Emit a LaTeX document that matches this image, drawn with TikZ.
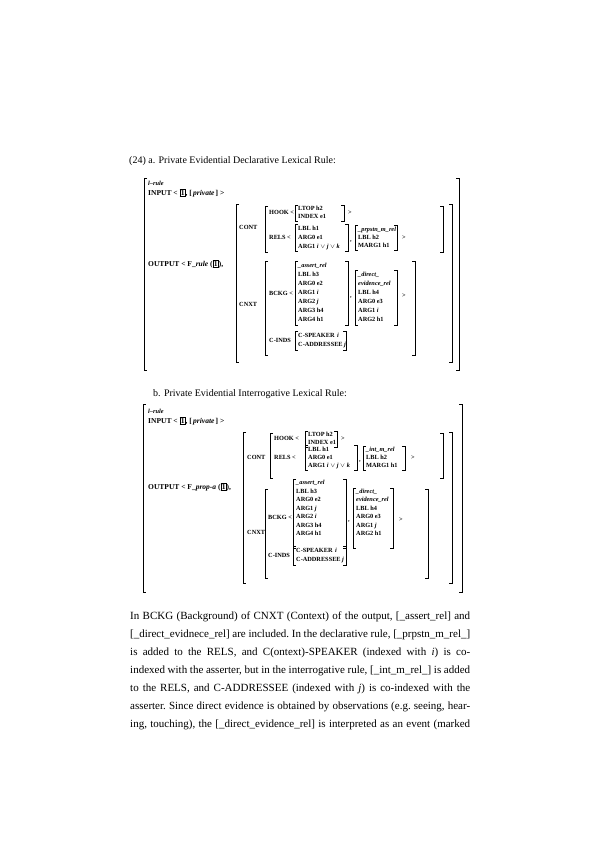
\documentclass[tikz,border=0pt]{standalone}
\usepackage{fontspec}
\setmainfont{Liberation Serif}
\tikzset{
 brk/.style={line width=0.8pt},
 avm/.style={font=\fontsize{6.3}{7}\selectfont\bfseries, inner sep=0pt, anchor=west, text height=4.5pt, text depth=1.3pt},
 avmtop/.style={avm, font=\fontsize{7.5}{8}\selectfont\bfseries},
 ttl/.style={font=\fontsize{10}{12}\selectfont, inner sep=0pt, anchor=base west},
 para/.style={font=\fontsize{11}{12}\selectfont\frenchspacing, inner sep=0pt, anchor=base west},
}
\newcounter{nn}
\newcommand\avt[2]{\stepcounter{nn}\node[avm] (t\arabic{nn}) at (#1) {#2};}
\newcommand\avtop[2]{\stepcounter{nn}\node[avmtop] (t\arabic{nn}) at (#1) {#2};}
\newcommand\lbr[3]{\draw[brk] (#1+3,#2) -- (#1,#2) -- (#1,#3) -- (#1+3,#3);}
\newcommand\rbr[3]{\draw[brk] (#1-3,#2) -- (#1,#2) -- (#1,#3) -- (#1-3,#3);}
\newcommand\bkt[4]{\lbr{#1}{#3}{#4}\rbr{#2}{#3}{#4}}
\newcommand\bxn[1]{{\setlength\fboxsep{0.7pt}\setlength\fboxrule{0.5pt}\fbox{#1}}}
\newcommand\pline[2]{\stepcounter{nn}\node[para] (p\arabic{nn}) at (130,#1) {\makebox[340pt][s]{#2}};}
\begin{document}
\begin{tikzpicture}[x=1pt,y=-1pt]
\fill[white] (0,0) rectangle (595,842);
\useasboundingbox (0,0) rectangle (595,842);
% titles
\node[ttl] (ta) at (129,164) {(24) a. Private Evidential Declarative Lexical Rule:};
\node[ttl] (tb) at (153,396) {b. Private Evidential Interrogative Lexical Rule:};
% ================= AVM a
\bkt{144}{459}{178}{370}
\avt{148,184}{\textit{l–rule}}
\avtop{148,194}{INPUT < \bxn{1}, [\,\textit{private}\,] >}
\avtop{148,265}{OUTPUT < F\_\textit{rule} (\bxn{1}),}
\bkt{236}{452}{204}{362}
\avt{239,228}{CONT}
\bkt{265}{443}{206}{252}
\avt{269,213}{HOOK <}
\bkt{295}{344}{205}{221}
\avt{298,209}{LTOP h2}
\avt{298,217}{INDEX e1}
\avt{348,213}{>}
\avt{269,238}{RELS <}
\bkt{295}{348}{224}{251}
\avt{298,229}{LBL h1}
\avt{298,238}{ARG0 e1}
\avt{298,247}{ARG1 \textit{i} $\vee$ \textit{j} $\vee$ \textit{k}}
\avt{350,240}{,}
\bkt{355}{397}{225}{250}
\avt{358,230}{\textit{\_prpstn\_m\_rel}}
\avt{358,238}{LBL h2}
\avt{358,246}{MARG1 h1}
\avt{402,238}{>}
\bkt{265}{415}{261}{355}
\avt{239,305}{CNXT}
\avt{269,294}{BCKG <}
\bkt{295}{348}{261}{325}
\avt{298,266}{\textit{\_assert\_rel}}
\avt{298,275}{LBL h3}
\avt{298,284}{ARG0 e2}
\avt{298,293}{ARG1 \textit{i}}
\avt{298,302}{ARG2 \textit{j}}
\avt{298,311}{ARG3 h4}
\avt{298,320}{ARG4 h1}
\avt{350,296}{,}
\bkt{355}{397}{270}{325}
\avt{358,275}{\textit{\_direct\_}}
\avt{358,284}{\textit{evidence\_rel}}
\avt{358,293}{LBL h4}
\avt{358,302}{ARG0 e3}
\avt{358,311}{ARG1 \textit{i}}
\avt{358,320}{ARG2 h1}
\avt{402,296}{>}
\avt{269,341}{C-INDS}
\bkt{295}{346}{331}{350}
\avt{298,336}{C-SPEAKER}
\avt{337,336}{\textit{i}}
\avt{298,345}{C-ADDRESSEE \textit{j}}
% ================= AVM b
\bkt{143}{462}{404}{592}
\avt{148,412}{\textit{l–rule}}
\avtop{148,422}{INPUT < \bxn{1}, [\,\textit{private}\,] >}
\avtop{148,488}{OUTPUT < F\_\textit{prop-a} (\bxn{1}),}
\bkt{243}{452}{432}{583}
\avt{247,458}{CONT}
\bkt{270}{443}{433}{478}
\avt{274,439}{HOOK <}
\bkt{305}{337}{431}{447}
\avt{308,435}{LTOP h2}
\avt{308,443}{INDEX e1}
\avt{341,439}{>}
\avt{274,458}{RELS <}
\bkt{305}{357}{445}{470}
\avt{308,450}{LBL h1}
\avt{308,458}{ARG0 e1}
\avt{308,466}{ARG1 \textit{i} $\vee$ \textit{j} $\vee$ \textit{k}}
\avt{359,460}{,}
\bkt{363}{405}{446}{470}
\avt{366,450}{\textit{\_int\_m\_rel}}
\avt{366,458}{LBL h2}
\avt{366,466}{MARG1 h1}
\avt{411,458}{>}
\bkt{265}{428}{489}{578}
\avt{247,533}{CNXT}
\avt{268,518}{BCKG <}
\bkt{293}{346}{479}{548}
\avt{296,483}{\textit{\_assert\_rel}}
\avt{296,491.5}{LBL h3}
\avt{296,500}{ARG0 e2}
\avt{296,508.5}{ARG1 \textit{j}}
\avt{296,517}{ARG2 \textit{i}}
\avt{296,525.5}{ARG3 h4}
\avt{296,534}{ARG4 h1}
\avt{348,520}{,}
\bkt{353}{393}{488}{548}
\avt{356,491.5}{\textit{\_direct\_}}
\avt{356,500}{\textit{evidence\_rel}}
\avt{356,508.5}{LBL h4}
\avt{356,517}{ARG0 e3}
\avt{356,525.5}{ARG1 \textit{j}}
\avt{356,534}{ARG2 h1}
\avt{399,520}{>}
\avt{268,556}{C-INDS}
\bkt{293}{346}{546}{565}
\avt{296,551}{C-SPEAKER}
\avt{335,551}{\textit{i}}
\avt{296,560}{C-ADDRESSEE \textit{j}}
% ================= paragraph
\pline{619}{In BCKG (Background) of CNXT (Context) of the output, [\_assert\_rel] and}
\pline{637}{[\_direct\_evidnece\_rel] are included. In the declarative rule, [\_prpstn\_m\_rel\_]}
\pline{655}{is added to the RELS, and C(ontext)-SPEAKER (indexed with \textit{i}) is co-}
\pline{673}{indexed with the asserter, but in the interrogative rule, [\_int\_m\_rel\_] is added}
\pline{691}{to the RELS, and C-ADDRESSEE (indexed with \textit{j}) is co-indexed with the}
\pline{709}{asserter. Since direct evidence is obtained by observations (e.g. seeing, hear-}
\pline{727}{ing, touching), the [\_direct\_evidence\_rel] is interpreted as an event (marked}
\end{tikzpicture}
\end{document}
